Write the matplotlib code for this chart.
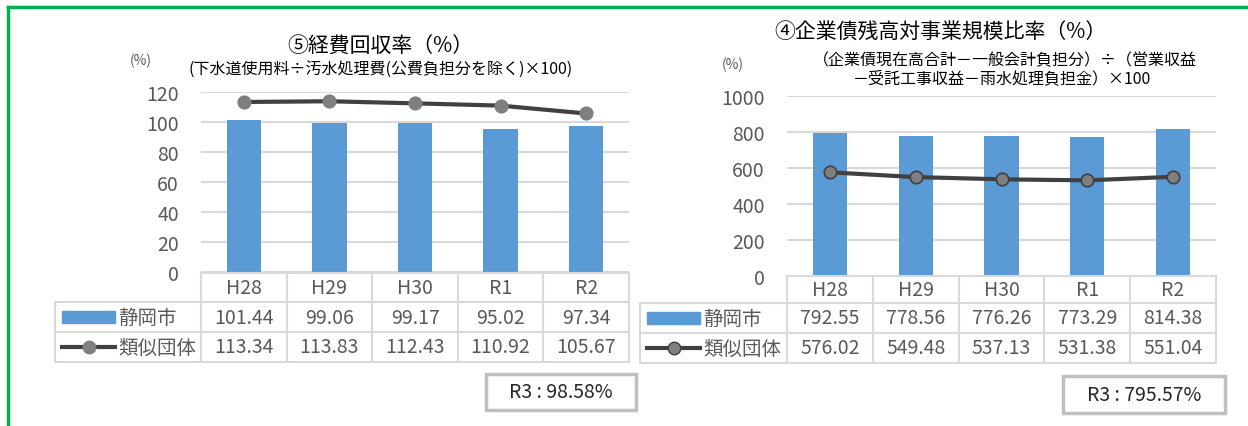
import numpy as np
import matplotlib
matplotlib.use("Agg")
import matplotlib.pyplot as plt
from matplotlib.lines import Line2D
from matplotlib.patches import Rectangle
from matplotlib.transforms import blended_transform_factory

plt.rcParams['font.family'] = ['Noto Sans CJK JP', 'DejaVu Sans']

W, H = 1248, 427

# データ
years = ["H28", "H29", "H30", "R1", "R2"]
series_names = ["静岡市", "類似団体"]

recovery_city = [101.44, 99.06, 99.17, 95.02, 97.34]
recovery_similar = [113.34, 113.83, 112.43, 110.92, 105.67]
recovery_ticks = [0, 20, 40, 60, 80, 100, 120]
recovery_r3 = "R3 : 98.58%"

debt_city = [792.55, 778.56, 776.26, 773.29, 814.38]
debt_similar = [576.02, 549.48, 537.13, 531.38, 551.04]
debt_ticks = [0, 200, 400, 600, 800, 1000]
debt_r3 = "R3 : 795.57%"

BAR_COLOR = "#5b9bd5"
LINE_COLOR = "#404040"
MARK_COLOR = "#7f7f7f"
GRID_COLOR = "#d9d9d9"
TEXT_COLOR = "#595959"
FS = 14


def fx(px):
    return px / W


def fy(py):
    return 1 - py / H


fig = plt.figure(figsize=(W / 100, H / 100), dpi=100)

# 緑の枠線
fig.add_artist(Line2D([fx(8), fx(8)], [0, fy(8)], color="#00b050", lw=2.5))
fig.add_artist(Line2D([fx(8), 1], [fy(8), fy(8)], color="#00b050", lw=2.5))


def draw_panel(box, city, similar, ticks, rows_y, label_left, mark_edge):
    """box = (左, 上, 右, 下) px。グラフ + 下のデータ表"""
    l, t, r, b = box
    ax = fig.add_axes([fx(l), fy(b), fx(r - l), (b - t) / H])
    x = np.arange(len(years))
    ax.bar(x, city, width=0.4, color=BAR_COLOR, zorder=2)
    ax.plot(x, similar, color=LINE_COLOR, lw=3, marker="o", ms=9,
            mfc=MARK_COLOR, mec=mark_edge, mew=1.2, zorder=3, clip_on=False)
    ax.set_xlim(-0.5, len(years) - 0.5)
    ax.set_ylim(ticks[0], ticks[-1])
    ax.set_yticks(ticks)
    ax.yaxis.grid(True, color=GRID_COLOR, lw=1.5, zorder=0)
    ax.set_xticks([])
    for s in ax.spines.values():
        s.set_visible(False)
    ax.tick_params(axis="y", length=0, pad=16, labelsize=FS, labelcolor=TEXT_COLOR)

    # 表
    tr = blended_transform_factory(ax.transData, fig.transFigure)
    y0, y1, y2, y3 = rows_y
    lk = dict(color=GRID_COLOR, lw=1.5, clip_on=False)
    bounds = np.arange(len(years) + 1) - 0.5
    fig.add_artist(Line2D([fx(l), fx(r)], [fy(y0), fy(y0)], **lk))
    for yy in (y1, y2, y3):
        fig.add_artist(Line2D([fx(label_left), fx(r)], [fy(yy), fy(yy)], **lk))
    for xb in bounds:
        ax.add_line(Line2D([xb, xb], [fy(y0), fy(y3)], transform=tr, **lk))
    fig.add_artist(Line2D([fx(label_left), fx(label_left)], [fy(y1), fy(y3)], **lk))

    for i, yr in enumerate(years):
        ax.text(i, fy((y0 + y1) / 2), yr, transform=tr, ha="center", va="center",
                fontsize=FS, color=TEXT_COLOR)
        ax.text(i, fy((y1 + y2) / 2), f"{city[i]:.2f}", transform=tr, ha="center",
                va="center", fontsize=FS, color=TEXT_COLOR)
        ax.text(i, fy((y2 + y3) / 2), f"{similar[i]:.2f}", transform=tr, ha="center",
                va="center", fontsize=FS, color=TEXT_COLOR)

    # 凡例キー
    ym1 = (y1 + y2) / 2
    ym2 = (y2 + y3) / 2
    fig.add_artist(Rectangle((fx(label_left + 7), fy(ym1 + 6)), fx(53), 12 / H,
                             color=BAR_COLOR))
    fig.add_artist(Line2D([fx(label_left + 7), fx(label_left + 60)], [fy(ym2), fy(ym2)],
                          color=LINE_COLOR, lw=3))
    fig.add_artist(Line2D([fx(label_left + 33.5)], [fy(ym2)], color=LINE_COLOR,
                          marker="o", ms=9, mfc=MARK_COLOR, mec=mark_edge, lw=0))
    fig.text(fx(label_left + 63), fy(ym1), series_names[0], ha="left", va="center",
             fontsize=FS, color=TEXT_COLOR)
    fig.text(fx(label_left + 63), fy(ym2), series_names[1], ha="left", va="center",
             fontsize=FS, color=TEXT_COLOR)
    return ax


draw_panel((201, 93, 629, 273), recovery_city, recovery_similar, recovery_ticks,
           (274, 303, 333, 363), 55, MARK_COLOR)
draw_panel((787, 97, 1216, 277), debt_city, debt_similar, debt_ticks,
           (277, 304, 334, 364), 640, LINE_COLOR)

# タイトル
fig.text(fx(380), fy(47), "⑤経費回収率（%）", ha="center", va="center", fontsize=15)
fig.text(fx(381), fy(69), "(下水道使用料÷汚水処理費(公費負担分を除く)×100)",
         ha="center", va="center", fontsize=11.5)
fig.text(fx(141), fy(61), "(%)", ha="center", va="center", fontsize=10, color=TEXT_COLOR)

fig.text(fx(940), fy(33), "④企業債残高対事業規模比率（%）", ha="center", va="center",
         fontsize=15)
fig.text(fx(1005), fy(61), "（企業債現在高合計－一般会計負担分）÷（営業収益",
         ha="center", va="center", fontsize=11.5)
fig.text(fx(1002), fy(79), "－受託工事収益－雨水処理負担金）×100",
         ha="center", va="center", fontsize=11.5)
fig.text(fx(733), fy(65), "(%)", ha="center", va="center", fontsize=10, color=TEXT_COLOR)

# R3 の値
for (bl, bt, br, bb), txt in [((486, 375, 636, 411), recovery_r3),
                              ((1063, 377, 1225, 414), debt_r3)]:
    fig.add_artist(Rectangle((fx(bl), fy(bb)), fx(br - bl), (bb - bt) / H,
                             fc="white", ec="#bfbfbf", lw=2.5))
    fig.text(fx((bl + br) / 2), fy((bt + bb) / 2), txt, ha="center", va="center",
             fontsize=FS, color="#262626")

fig.savefig("out.png", dpi=100)
